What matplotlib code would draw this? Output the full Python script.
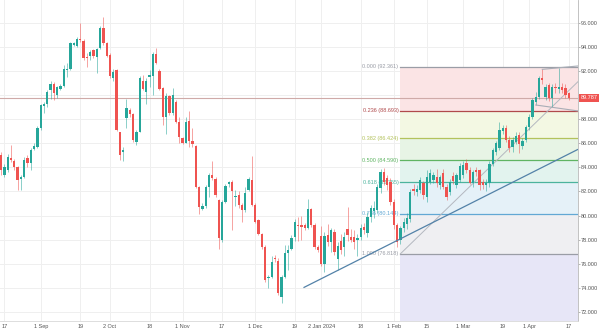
import numpy as np
import pandas as pd
import matplotlib
matplotlib.use("Agg")
import matplotlib.pyplot as plt
from matplotlib.patches import Rectangle
import matplotlib.transforms as mtransforms

plt.rcParams["font.family"] = ["Liberation Sans", "DejaVu Sans"]

# ---- trading calendar (weekdays minus exchange holidays) ----
holidays = ["2023-12-25", "2024-01-01", "2024-03-29"]
dates = pd.bdate_range("2023-08-16", "2024-04-17")
dates = dates[~dates.isin(pd.to_datetime(holidays))]

# ---- daily OHLC ----
opens = [
    85.0, 83.4, 83.8, 84.75, 84.55, 84.0, 83.0, 83.2, 84.8, 84.35, 85.55, 85.7,
    87.25, 89.1, 89.25, 90.45, 90.9, 90.0, 90.5, 90.75, 92.1, 92.2, 94.2, 94.1,
    94.7, 94.5, 93.2, 93.25, 93.75, 93.2, 93.9, 95.55, 94.3, 93.35, 91.4, 92.05,
    86.9, 85.3, 88.1, 88.75, 88.4, 86.1, 86.95, 91.15, 90.3, 91.5, 91.55, 93.45,
    92.0, 90.55, 88.15, 89.9, 88.5, 89.45, 87.75, 86.45, 86.05, 87.85, 86.15, 85.8,
    82.35, 80.55, 80.75, 82.4, 83.35, 83.05, 81.3, 77.95, 81.15, 82.6, 82.8, 81.5,
    81.7, 80.85, 80.45, 82.15, 82.95, 80.85, 79.6, 78.45, 77.4, 74.8, 74.9, 76.5,
    76.2, 73.25, 74.9, 76.9, 77.2, 78.25, 79.25, 79.2, 79.2, 78.95, 80.5, 79.2,
    77.4, 78.3, 76.0, 78.4, 77.8, 78.6, 76.4, 77.9, 77.4, 78.85, 78.24, 78.24,
    77.96, 78.24, 79.07, 78.52, 79.9, 80.4, 80.45, 82.25, 83.64, 83.1, 82.8, 81.1,
    79.2, 77.96, 78.93, 79.3, 79.7, 82.2, 81.98, 82.1, 82.67, 81.56, 82.81, 82.95,
    83.22, 82.53, 83.5, 82.39, 81.98, 83.3, 82.53, 82.95, 83.4, 84.4, 83.8, 82.7,
    83.75, 83.75, 82.8, 82.5, 82.7, 84.3, 85.3, 85.6, 87.0, 87.3, 86.3, 85.7,
    86.1, 86.7, 85.8, 86.3, 87.38, 88.21, 89.46, 89.87, 91.39, 89.87, 90.84, 89.73,
    90.7, 90.5, 90.7, 90.62, 90.15,
]
highs = [
    85.3, 84.3, 85.1, 85.85, 84.7, 84.1, 83.4, 84.9, 85.0, 85.6, 86.0, 87.4,
    89.3, 89.45, 90.4, 91.2, 91.1, 90.75, 90.9, 92.5, 92.65, 94.45, 94.45, 94.8,
    95.95, 94.65, 93.5, 93.75, 93.85, 93.95, 95.7, 96.5, 94.45, 93.5, 92.15, 92.2,
    86.95, 85.7, 89.7, 88.9, 88.55, 87.1, 91.55, 91.65, 91.4, 92.1, 93.6, 93.95,
    92.15, 90.65, 90.15, 90.0, 90.55, 89.6, 88.2, 86.55, 88.15, 88.7, 87.25, 85.85,
    82.45, 81.0, 82.55, 83.5, 84.55, 83.2, 81.4, 81.3, 82.6, 82.9, 82.95, 82.1,
    82.0, 81.0, 82.4, 83.2, 84.95, 81.0, 79.75, 78.55, 77.55, 75.05, 76.6, 76.7,
    76.45, 75.05, 77.55, 77.55, 78.4, 79.7, 79.9, 79.95, 79.35, 81.35, 80.65, 79.35,
    77.55, 79.1, 78.6, 79.3, 79.0, 78.9, 77.8, 78.5, 78.6, 80.7, 78.9, 78.8,
    78.5, 79.3, 79.4, 80.3, 80.9, 81.2, 82.6, 83.9, 83.95, 83.4, 83.1, 81.4,
    79.4, 79.1, 79.8, 80.2, 82.2, 82.6, 82.5, 83.2, 82.9, 83.8, 83.9, 83.6,
    83.9, 83.4, 83.9, 82.6, 83.0, 83.6, 83.5, 84.4, 84.5, 84.7, 84.0, 83.8,
    84.0, 83.9, 83.0, 83.0, 84.5, 85.6, 86.2, 87.8, 87.5, 87.5, 86.6, 86.5,
    86.9, 86.9, 86.4, 87.5, 88.4, 89.8, 90.3, 91.6, 92.14, 90.9, 91.0, 90.9,
    91.0, 92.27, 91.0, 90.9, 90.3,
]
lows = [
    83.4, 83.2, 83.6, 84.45, 83.8, 82.1, 82.1, 83.1, 84.0, 83.8, 85.4, 85.6,
    87.1, 88.5, 89.0, 89.7, 89.6, 89.8, 90.4, 90.7, 91.5, 92.1, 94.05, 94.0,
    94.45, 92.95, 92.35, 92.9, 93.1, 91.8, 93.8, 94.15, 93.2, 91.4, 91.2, 87.0,
    84.6, 84.5, 87.25, 88.2, 86.1, 85.85, 86.9, 90.4, 89.3, 90.7, 90.0, 92.6,
    90.4, 87.5, 86.8, 88.35, 88.35, 87.65, 86.0, 85.95, 86.0, 85.65, 85.65, 82.25,
    80.1, 80.45, 80.6, 81.55, 82.95, 81.55, 77.2, 77.8, 81.0, 82.4, 78.8, 80.75,
    80.6, 79.5, 80.3, 82.0, 80.75, 79.35, 78.4, 77.25, 74.5, 73.95, 74.8, 76.15,
    73.4, 72.7, 74.8, 75.45, 77.1, 77.85, 77.85, 77.95, 78.8, 78.85, 79.05, 77.25,
    77.0, 75.8, 75.3, 77.5, 77.0, 76.7, 75.5, 76.8, 76.6, 77.9, 77.8, 77.2,
    76.6, 78.0, 78.5, 78.2, 79.5, 79.8, 80.2, 81.9, 82.5, 82.1, 80.9, 78.9,
    77.4, 77.6, 78.6, 78.9, 79.5, 81.7, 81.6, 81.9, 81.4, 81.15, 82.6, 82.7,
    82.4, 82.2, 82.2, 81.3, 81.7, 82.6, 82.3, 82.8, 83.1, 83.5, 82.6, 82.4,
    83.3, 82.1, 82.2, 82.0, 82.4, 84.1, 85.0, 85.4, 86.8, 86.1, 85.3, 85.3,
    85.9, 85.2, 85.5, 86.1, 87.1, 88.0, 89.2, 89.7, 90.9, 89.6, 89.5, 89.04,
    90.2, 90.2, 90.15, 89.73, 89.6,
]
closes = [
    83.8, 84.05, 84.9, 84.6, 84.0, 82.95, 83.2, 84.65, 84.35, 85.45, 85.8, 87.25,
    89.2, 89.3, 90.3, 90.9, 90.15, 90.65, 90.75, 92.15, 92.2, 94.3, 94.3, 94.7,
    94.55, 93.1, 93.05, 93.55, 93.25, 93.85, 95.55, 94.3, 93.25, 91.55, 91.95, 87.1,
    85.0, 85.4, 88.95, 88.4, 86.25, 86.95, 91.45, 90.5, 91.2, 91.65, 93.45, 92.7,
    90.5, 88.15, 89.9, 88.5, 90.0, 87.75, 86.5, 86.05, 87.8, 86.2, 85.95, 82.35,
    80.7, 80.75, 82.4, 83.4, 83.1, 81.7, 78.1, 81.15, 82.45, 82.8, 82.0, 81.65,
    80.85, 80.45, 81.85, 83.0, 80.85, 79.5, 78.5, 77.4, 74.65, 74.9, 76.15, 76.35,
    73.55, 74.9, 76.85, 77.1, 78.1, 79.5, 79.15, 79.05, 78.95, 80.5, 79.2, 77.4,
    77.15, 76.0, 78.3, 77.8, 78.8, 77.0, 77.5, 77.1, 78.2, 78.4, 77.96, 77.82,
    78.1, 78.93, 78.79, 79.9, 80.6, 80.6, 82.39, 83.6, 82.81, 82.5, 81.1, 79.2,
    77.8, 78.93, 79.5, 79.8, 81.98, 82.05, 82.17, 82.95, 81.7, 83.2, 83.5, 83.36,
    82.67, 83.22, 82.4, 81.5, 82.81, 82.9, 83.36, 84.1, 84.2, 83.8, 82.7, 83.6,
    83.6, 82.5, 82.5, 82.7, 84.3, 85.4, 86.0, 87.1, 87.3, 86.3, 85.6, 86.3,
    86.6, 85.9, 86.2, 87.38, 88.21, 89.59, 89.87, 91.39, 91.25, 90.7, 89.73, 90.7,
    90.56, 90.65, 90.42, 90.01, 89.787,
]

# ---- axis ticks ----
tick_dates = ["2023-08-17", "2023-09-01", "2023-09-19", "2023-10-02", "2023-10-18",
              "2023-11-01", "2023-11-17", "2023-12-01", "2023-12-19", "2024-01-02",
              "2024-01-18", "2024-02-01", "2024-02-15", "2024-03-01", "2024-03-19",
              "2024-04-01", "2024-04-17"]
tick_labels = ["17", "1 Sep", "19", "2 Oct", "18", "1 Nov", "17", "1 Dec", "19",
               "2 Jan 2024", "18", "1 Feb", "15", "1 Mar", "19", "1 Apr", "17"]
price_ticks = [72, 74, 76, 78, 80, 82, 84, 86, 88, 90, 92, 94, 96]

# ---- Fibonacci retracement ----
fib_ratios = [0.000, 0.236, 0.382, 0.500, 0.618, 0.786, 1.000]
fib_prices = [92.361, 88.693, 86.424, 84.590, 82.755, 80.144, 76.818]
fib_line_colors = ["#9a9da6", "#b04a4c", "#b3c25c", "#5fb463", "#4cb39d", "#62a8d4", "#9a9da6"]
fib_fill_colors = ["#fbe4e5", "#f3f8e3", "#e7f4e5", "#e2f3ee", "#e5f1f8", "#efeff2", "#e7e6f7"]
fib_start_date = "2024-02-05"
fib_end_offset = 58.5          # bars from start to the upper anchor

last_price = 89.787

up_col, dn_col = "#26a69a", "#ef5350"

fig = plt.figure(figsize=(6.0, 3.31), dpi=100)
ax = fig.add_axes([0.0, 1 - 320.5 / 331, 577.5 / 600, 320.5 / 331])

x = np.arange(len(dates))
xmin, xmax = -0.333, 174.67
ymin, ymax = 71.28, 97.9

# grid
tick_pos = [dates.get_loc(pd.Timestamp(d)) for d in tick_dates]
for tp in tick_pos:
    ax.axvline(tp, color="#efefef", lw=0.7, zorder=0)
for pt in price_ticks:
    ax.axhline(pt, color="#efefef", lw=0.7, zorder=0)

# fib zones
f0 = dates.get_loc(pd.Timestamp(fib_start_date))
bounds = fib_prices + [ymin]
for j in range(len(fib_prices)):
    ax.add_patch(Rectangle((f0, bounds[j + 1]), xmax - f0, bounds[j] - bounds[j + 1],
                           facecolor=fib_fill_colors[j], edgecolor="none", zorder=0.5))
for r, p, c in zip(fib_ratios, fib_prices, fib_line_colors):
    ax.plot([f0, xmax], [p, p], color=c, lw=0.9, zorder=1)
    ax.text(f0 - 0.6, p, f"{r:.3f} ({p:.3f})", color=c, fontsize=4.0,
            ha="right", va="center", zorder=1.2)

# fib diagonal (anchor to anchor)
ax.plot([f0, f0 + fib_end_offset], [fib_prices[-1], fib_prices[0]],
        color="#b4b8c0", lw=0.7, zorder=1.5)

# last price line
ax.axhline(last_price, color="#cfaaa8", lw=0.8, zorder=1.1)

# candles
for xi, o, h, l, c in zip(x, opens, highs, lows, closes):
    col = up_col if c >= o else dn_col
    ax.plot([xi, xi], [l, h], color=col, lw=0.5, alpha=0.75, zorder=2,
            solid_capstyle="butt")
    bot = min(o, c)
    hgt = max(abs(c - o), 0.06)
    ax.add_patch(Rectangle((xi - 0.36, bot), 0.72, hgt, facecolor=col,
                           edgecolor="none", zorder=3))

# rising support line
trend_start, trend_p0, trend_slope = 91.8, 74.03, 0.1381
ax.plot([trend_start, xmax], [trend_p0, trend_p0 + trend_slope * (xmax - trend_start)],
        color="#5382a8", lw=0.9, zorder=4)

# flag channel
up_k = dates.get_loc(pd.Timestamp("2024-04-05"))
lo_k = dates.get_loc(pd.Timestamp("2024-04-03"))
ax.plot([up_k, xmax], [92.14, 92.14 + 0.026 * (xmax - up_k)], color="#a9adb6", lw=0.8, zorder=4)
ax.plot([lo_k, xmax], [89.18, 89.18 - 0.0385 * (xmax - lo_k)], color="#a9adb6", lw=0.8, zorder=4)

ax.set_xlim(xmin, xmax)
ax.set_ylim(ymin, ymax)

ax.set_xticks(tick_pos)
ax.set_xticklabels(tick_labels)
shift = mtransforms.ScaledTranslation(2.5 / 100, 0, fig.dpi_scale_trans)
for lab in ax.get_xticklabels():
    lab.set_transform(lab.get_transform() + shift)

ax.yaxis.tick_right()
ax.set_yticks(price_ticks)
# the 90.000 label sits under the last-price tag
ax.set_yticklabels(["" if v == 90 else f"{v:.3f}" for v in price_ticks])
ax.tick_params(axis="x", length=0, pad=2.2, labelsize=4.0, labelcolor="#555555")
ax.tick_params(axis="y", length=1.6, width=0.5, color="#9a9a9a", pad=1.0,
               labelsize=4.0, labelcolor="#555555")

for s in ["top", "left"]:
    ax.spines[s].set_visible(False)
ax.spines["right"].set_color("#b8b8b8")
ax.spines["bottom"].set_color("#d8d8d8")
ax.spines["right"].set_linewidth(0.6)
ax.spines["bottom"].set_linewidth(0.6)

# last price tag on the scale
ax.annotate(f"{last_price:.3f}", xy=(1.0, last_price), xycoords=("axes fraction", "data"),
            xytext=(2.3, 0), textcoords="offset points", fontsize=4.0, color="white",
            ha="left", va="center",
            bbox=dict(boxstyle="square,pad=0.3", facecolor="#ef5350", edgecolor="none"),
            annotation_clip=False, zorder=10)

fig.savefig("out.png", dpi=100, facecolor="white")
